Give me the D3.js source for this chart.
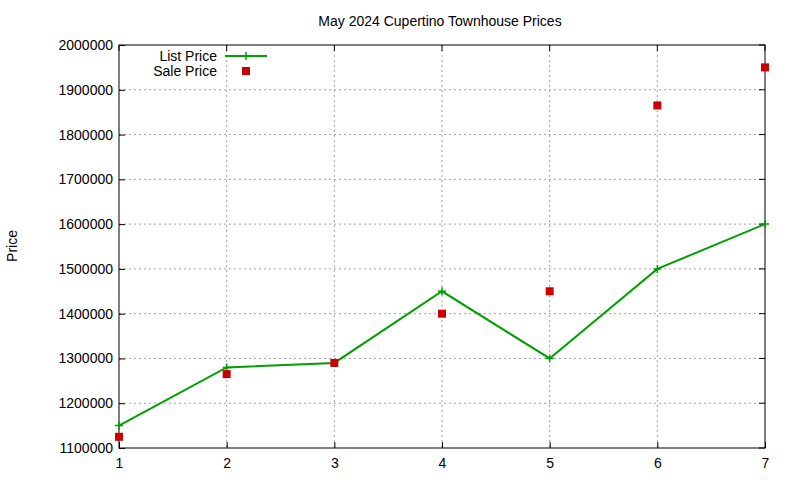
<!DOCTYPE html>
<html><head><meta charset="utf-8">
<script src="https://cdn.jsdelivr.net/npm/d3@7"></script>
<style>body{margin:0;background:#fff}text{font-family:"Liberation Sans",Arial,sans-serif}</style>
</head><body><svg id="chart" width="800" height="480"></svg>
<script>
const xValues = [1, 2, 3, 4, 5, 6, 7];
const listPrice = [1150000, 1280000, 1290000, 1450000, 1300000, 1500000, 1600000];
const salePrice = [1125000, 1265000, 1290000, 1400000, 1450000, 1865000, 1950000];
const yTicks = [1100000, 1200000, 1300000, 1400000, 1500000, 1600000, 1700000, 1800000, 1900000, 2000000];

const svg = d3.select("#chart")
, plotLeft = 119, plotRight = 765, plotTop = 45, plotBottom = 448
, green = "#00a000", red = "#cc0000";

const x = d3.scaleLinear().domain([1, 7]).range([plotLeft, plotRight]);
const y = d3.scaleLinear().domain([1100000, 2000000]).range([plotBottom, plotTop]);

// grid
svg.append("g").selectAll("line").data(xValues.slice(1, -1)).enter().append("line")
  .attr("x1", d => x(d)).attr("x2", d => x(d)).attr("y1", plotTop).attr("y2", plotBottom)
  .style("stroke", "#a0a0a0").style("stroke-dasharray", "2,3");
svg.append("g").selectAll("line").data(yTicks.slice(1, -1)).enter().append("line")
  .attr("x1", plotLeft).attr("x2", plotRight).attr("y1", d => y(d)).attr("y2", d => y(d))
  .style("stroke", "#a0a0a0").style("stroke-dasharray", "2,3");

// axes
const xAxis = svg.append("g").attr("transform", `translate(0,${plotBottom})`)
  .call(d3.axisBottom(x).tickValues(xValues).tickFormat(d3.format("d")).tickSize(-6).tickPadding(10));
const yAxis = svg.append("g").attr("transform", `translate(${plotLeft},0)`)
  .call(d3.axisLeft(y).tickValues(yTicks).tickFormat(d3.format("d")).tickSize(-6).tickPadding(6));
[xAxis, yAxis].forEach(a => {
  a.select(".domain").remove();
  a.selectAll("text").style("font-size", "14px").style("fill", "#000").style("font-family", '"Liberation Sans",Arial,sans-serif');
  a.selectAll("line").style("stroke", "#000");
});
// mirror ticks
svg.append("g").selectAll("line").data(yTicks).enter().append("line")
  .attr("x1", plotRight).attr("x2", plotRight - 6).attr("y1", d => y(d)).attr("y2", d => y(d)).style("stroke", "#000");
svg.append("g").selectAll("line").data(xValues).enter().append("line")
  .attr("x1", d => x(d)).attr("x2", d => x(d)).attr("y1", plotTop).attr("y2", plotTop + 6).style("stroke", "#000");

svg.append("rect").attr("x", plotLeft).attr("y", plotTop).attr("width", plotRight - plotLeft).attr("height", plotBottom - plotTop)
  .style("fill", "none").style("stroke", "#000");

// list price
const line = d3.line().x((d, i) => x(xValues[i])).y(d => y(d));
svg.append("path").datum(listPrice).attr("d", line)
  .style("fill", "none").style("stroke", green).style("stroke-width", 2);
const plus = (g, cx, cy) => g.append("path")
  .attr("d", `M${cx - 4},${cy}H${cx + 4}M${cx},${cy - 4}V${cy + 4}`)
  .style("stroke", green).style("stroke-width", 1.5);
listPrice.forEach((d, i) => plus(svg, x(xValues[i]), y(d)));

// sale price
svg.append("g").selectAll("rect").data(salePrice).enter().append("rect")
  .attr("x", (d, i) => x(xValues[i]) - 4).attr("y", d => y(d) - 4)
  .attr("width", 8).attr("height", 8).style("fill", red);

// legend
svg.append("text").attr("x", 217).attr("y", 61).attr("text-anchor", "end").style("font-size", "14px").text("List Price");
svg.append("line").attr("x1", 225).attr("x2", 267).attr("y1", 56).attr("y2", 56).style("stroke", green).style("stroke-width", 2);
plus(svg, 246, 56);
svg.append("text").attr("x", 217).attr("y", 76).attr("text-anchor", "end").style("font-size", "14px").text("Sale Price");
svg.append("rect").attr("x", 242).attr("y", 67).attr("width", 8).attr("height", 8).style("fill", red);

// titles
svg.append("text").attr("x", 440).attr("y", 26).attr("text-anchor", "middle").style("font-size", "14px")
  .text("May 2024 Cupertino Townhouse Prices");
svg.append("text").attr("transform", "translate(17,246) rotate(-90)").attr("text-anchor", "middle")
  .style("font-size", "14px").text("Price");
</script></body></html>
